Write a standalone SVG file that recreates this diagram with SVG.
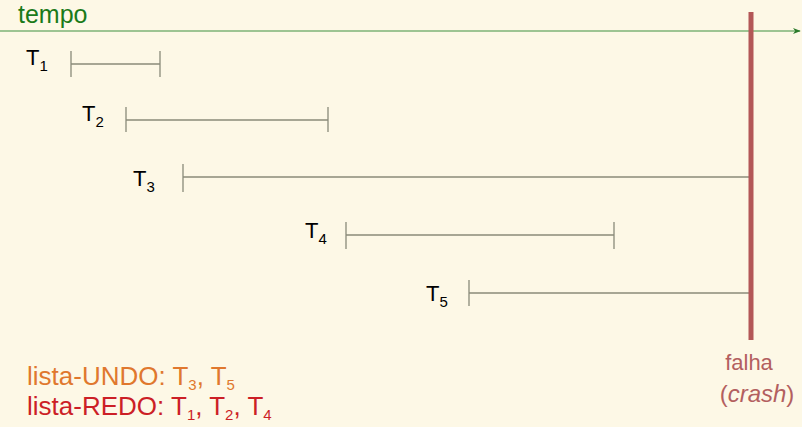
<svg xmlns="http://www.w3.org/2000/svg" width="802" height="427" viewBox="0 0 802 427">
<defs>
<style>
text{font-family:"Liberation Sans",Arial,sans-serif}
.lbl{font-size:22px;fill:#000}
.sub{font-size:15px}
.bar{stroke:#8a8a7a;stroke-width:1.3;fill:none}
</style>
<marker id="arr" viewBox="0 0 10 10" refX="9" refY="5" markerWidth="8" markerHeight="8" orient="auto" markerUnits="userSpaceOnUse"><path d="M0,1 L10,5 L0,9 L3,5 Z" fill="#2a7a2a"/></marker>
</defs>
<rect width="802" height="427" fill="#fdf8e6"/>
<g id="axis">
<line x1="0" y1="31" x2="800" y2="31" stroke="#3f8f3f" stroke-width="1.2" marker-end="url(#arr)"/>
<text x="18" y="23" font-size="25" fill="#1a7a1a">tempo</text>
</g>
<g id="connectors">
<path class="bar" d="M71,51 V77 M71,64 H160 M160,51 V77"/>
<path class="bar" d="M126,107 V132 M126,120 H328 M328,107 V132"/>
<path class="bar" d="M183,164 V192 M183,177 H751"/>
<path class="bar" d="M346,222 V249 M346,235 H614 M614,222 V249"/>
<path class="bar" d="M469,280 V306 M469,293 H751"/>
</g>
<g id="T1"><text class="lbl" x="26" y="65">T<tspan class="sub" dy="6">1</tspan></text></g>
<g id="T2"><text class="lbl" x="82" y="121">T<tspan class="sub" dy="6">2</tspan></text></g>
<g id="T3"><text class="lbl" x="133" y="186">T<tspan class="sub" dy="6">3</tspan></text></g>
<g id="T4"><text class="lbl" x="305" y="238">T<tspan class="sub" dy="6">4</tspan></text></g>
<g id="T5"><text class="lbl" x="426" y="301">T<tspan class="sub" dy="6">5</tspan></text></g>
<g id="crash">
<rect x="748.5" y="12" width="5" height="328" fill="#b35757"/>
<text x="749" y="370" font-size="22" fill="#b35f5f" text-anchor="middle">falha</text>
<text x="757" y="402" font-size="24" fill="#b35f5f" text-anchor="middle">(<tspan font-style="italic">crash</tspan>)</text>
</g>
<g id="lists">
<text x="27" y="385" font-size="26" fill="#e0782e">lista-UNDO: T<tspan class="sub" dy="5">3</tspan><tspan dy="-5">, T</tspan><tspan class="sub" dy="5">5</tspan></text>
<text x="27" y="415" font-size="26" fill="#cc1f26">lista-REDO: T<tspan class="sub" dy="5">1</tspan><tspan dy="-5">, T</tspan><tspan class="sub" dy="5">2</tspan><tspan dy="-5">, T</tspan><tspan class="sub" dy="5">4</tspan></text>
</g>
</svg>
